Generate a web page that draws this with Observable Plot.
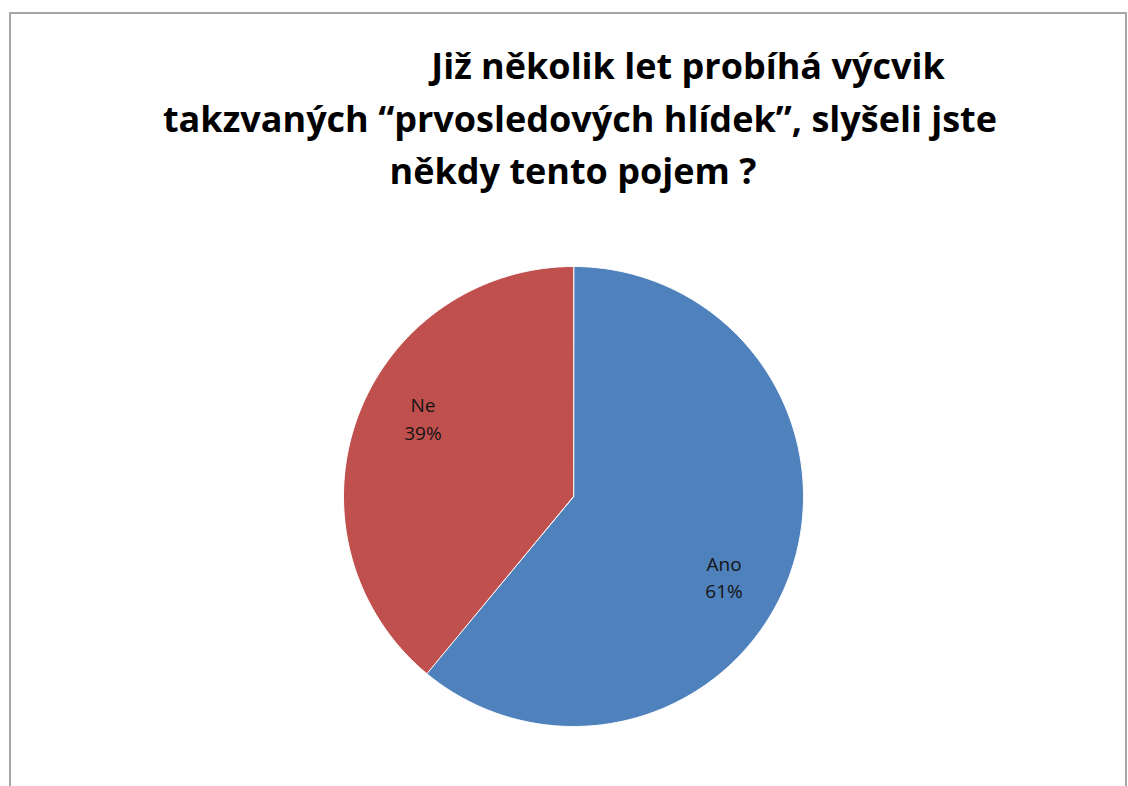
<!DOCTYPE html>
<html>
<head>
<meta charset="utf-8">
<script src="https://cdn.jsdelivr.net/npm/d3@7"></script>
<script src="https://cdn.jsdelivr.net/npm/@observablehq/plot@0.6"></script>
<style>
  html, body { margin: 0; padding: 0; background: #fff; }
  #wrap { position: relative; width: 1128px; height: 786px; overflow: hidden; background: #fff; }
  #frame { position: absolute; left: 9px; top: 12px; width: 1118px; height: 800px; border: 2px solid #a6a6a6; box-sizing: border-box; }
  .tl { position: absolute; font-family: "Open Sans", Lato, sans-serif; font-weight: bold; font-size: 36px; color: #000; white-space: nowrap; transform: translateX(-50%); line-height: 1; }
  #chart { position: absolute; left: 0; top: 250px; }
</style>
</head>
<body>
<div id="wrap">
  <div id="frame"></div>
  <div class="tl" id="t1" style="left:688px; top:48px;"></div>
  <div class="tl" id="t2" style="left:580px; top:101px;"></div>
  <div class="tl" id="t3" style="left:573px; top:153px;"></div>
  <div id="chart"></div>
</div>
<script>
const titleLines = ["Již několik let probíhá výcvik", "takzvaných “prvosledových hlídek”, slyšeli jste", "někdy tento pojem ?"];
const categories = ["Ano", "Ne"];
const values = [61, 39];
const percentLabels = ["61%", "39%"];
const colors = ["#4F81BD", "#C0504D"];

document.getElementById("t1").textContent = titleLines[0];
document.getElementById("t2").textContent = titleLines[1];
document.getElementById("t3").textContent = titleLines[2];

const arcs = d3.pie().sort(null).startAngle(0).endAngle(2 * Math.PI)(values);

const polys = [];
const labels = [];
const labelShift = 8 * Math.PI / 180;
arcs.forEach((a, i) => {
  const cat = categories[i];
  polys.push({cat, x: 0, y: 0});
  const n = Math.max(2, Math.ceil((a.endAngle - a.startAngle) / 0.01));
  for (let k = 0; k <= n; k++) {
    const t = a.startAngle + (a.endAngle - a.startAngle) * k / n;
    polys.push({cat, x: Math.sin(t), y: Math.cos(t)});
  }
  const mid = (a.startAngle + a.endAngle) / 2 + labelShift;
  labels.push({cat, x: Math.sin(mid) * 0.74, y: Math.cos(mid) * 0.74, text: cat + "\n" + percentLabels[i]});
});

const chart = Plot.plot({
  width: 1128,
  height: 500,
  margin: 0,
  x: {domain: [-1, 1], range: [343, 803], axis: null},
  y: {domain: [-1, 1], range: [476, 16], axis: null},
  color: {domain: categories, range: colors},
  marks: [
    Plot.line(polys, {x: "x", y: "y", z: "cat", fill: "cat", stroke: "white", strokeWidth: 1, curve: "linear-closed"}),
    Plot.text(labels, {x: "x", y: "y", text: "text", fill: "#141414", fontSize: 19, lineHeight: 1.45, fontFamily: "'Open Sans', Lato, sans-serif"})
  ]
});
document.getElementById("chart").appendChild(chart);
</script>
</body>
</html>
